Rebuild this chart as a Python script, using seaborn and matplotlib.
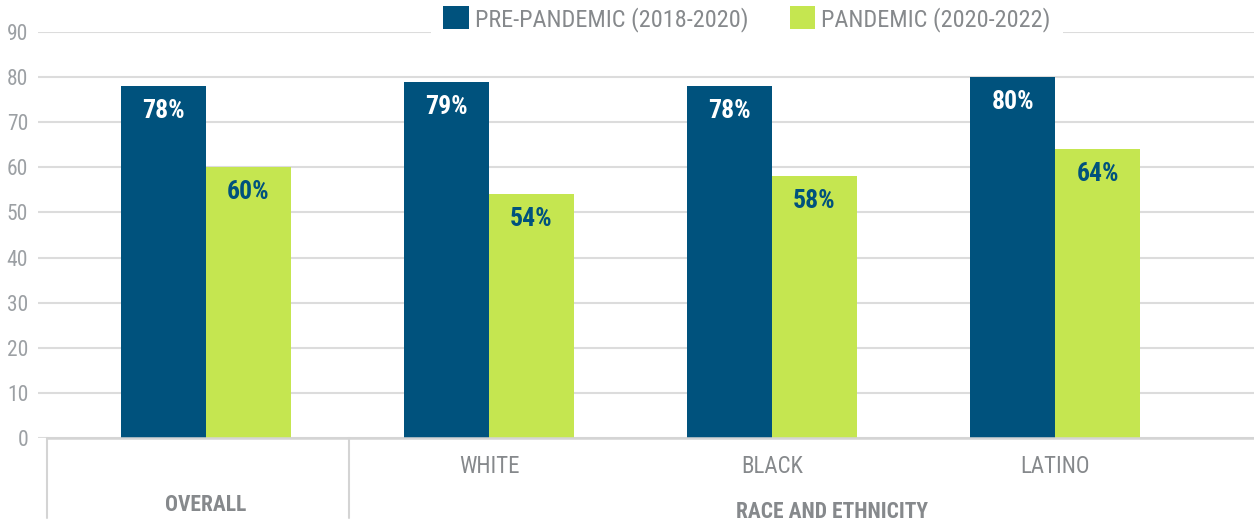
import matplotlib
matplotlib.use("Agg")
import matplotlib.pyplot as plt
import seaborn as sns
import pandas as pd
from matplotlib.transforms import blended_transform_factory
from matplotlib.lines import Line2D
from matplotlib.patches import Patch

groups = ["OVERALL", "WHITE", "BLACK", "LATINO"]
tick_labels = ["", "WHITE", "BLACK", "LATINO"]
series = ["PRE-PANDEMIC (2018-2020)", "PANDEMIC (2020-2022)"]
pre_pandemic = [78, 79, 78, 80]
pandemic = [60, 54, 58, 64]
yticks = [0, 10, 20, 30, 40, 50, 60, 70, 80, 90]
top_level = ["OVERALL", "RACE AND ETHNICITY"]

BLUE = "#00527d"
GREEN = "#c5e650"
GREY = "#86898c"
TICKGREY = "#9ca0a4"

sns.set_theme(style="white")
plt.rcParams["font.family"] = ["Roboto Condensed", "DejaVu Sans"]
plt.rcParams["font.stretch"] = "condensed"

df = pd.DataFrame({
    "group": groups * 2,
    "series": [series[0]] * 4 + [series[1]] * 4,
    "value": pre_pandemic + pandemic,
})

W, H = 1254, 524
fig = plt.figure(figsize=(W / 100, H / 100), dpi=100)
ax = fig.add_axes([38 / W, 86 / H, (W - 38) / W, 406 / H])

sns.barplot(data=df, x="group", y="value", hue="series", order=groups,
            hue_order=series, palette=[BLUE, GREEN], width=0.6,
            saturation=1, ax=ax, legend=False, zorder=3, linewidth=0)

ax.set_ylim(0, 90)
ax.set_xlim(-0.594, 3.703)
ax.set_yticks(yticks)
ax.set_yticklabels([str(v) for v in yticks])
ax.yaxis.grid(True, color="#dcdcdc", linewidth=1.5, zorder=0)
ax.set_axisbelow(True)
for s in ax.spines.values():
    s.set_visible(False)
ax.tick_params(axis="y", length=0, pad=7, labelsize=15.5, labelcolor=TICKGREY)
ax.tick_params(axis="x", length=0, pad=12, labelsize=16.5, labelcolor=GREY)
ax.set_xticks(range(len(groups)))
ax.set_xticklabels(tick_labels)
ax.set_xlabel("")
ax.set_ylabel("")

# bar value labels
for ci, cont in enumerate(ax.containers):
    col = "white" if ci == 0 else BLUE
    for bar in cont:
        h = bar.get_height()
        ax.annotate(f"{h:.0f}%", (bar.get_x() + bar.get_width() / 2, h),
                    xytext=(0, -18), textcoords="offset points",
                    ha="center", va="center", color=col, fontsize=18.5,
                    fontweight="bold", zorder=5)

# x-axis line and separators
ax.plot([(47 - 38) / (W - 38), 1], [0, 0], transform=ax.transAxes,
        color="#d4d4d4", linewidth=1.8, clip_on=False, zorder=4)
for px in (47, 349):
    fig.add_artist(Line2D([px / W, px / W], [(H - 438) / H, (H - 518) / H],
                          color="#d4d4d4", linewidth=1.5))

trans = blended_transform_factory(ax.transData, fig.transFigure)
ax.text(0, (H - 505) / H, top_level[0], transform=trans, ha="center",
        va="center", fontsize=15.5, fontweight="bold", color=GREY)
fig.text(832 / W, (H - 512) / H, top_level[1], ha="center", va="center",
         fontsize=15.5, fontweight="bold", color=GREY)

handles = [Patch(facecolor=BLUE, edgecolor="none"),
           Patch(facecolor=GREEN, edgecolor="none")]
leg = fig.legend(handles, series, loc="center",
                 bbox_to_anchor=(747 / W, 1 - 19 / H), ncol=2, frameon=True,
                 fontsize=17.5, handlelength=1.05, handleheight=1.05,
                 handletextpad=0.25, columnspacing=1.7, borderpad=0.5)
leg.get_frame().set_facecolor("white")
leg.get_frame().set_edgecolor("none")
leg.get_frame().set_alpha(1)
for t in leg.get_texts():
    t.set_color(GREY)

fig.savefig("out.png", dpi=100, facecolor="white")
